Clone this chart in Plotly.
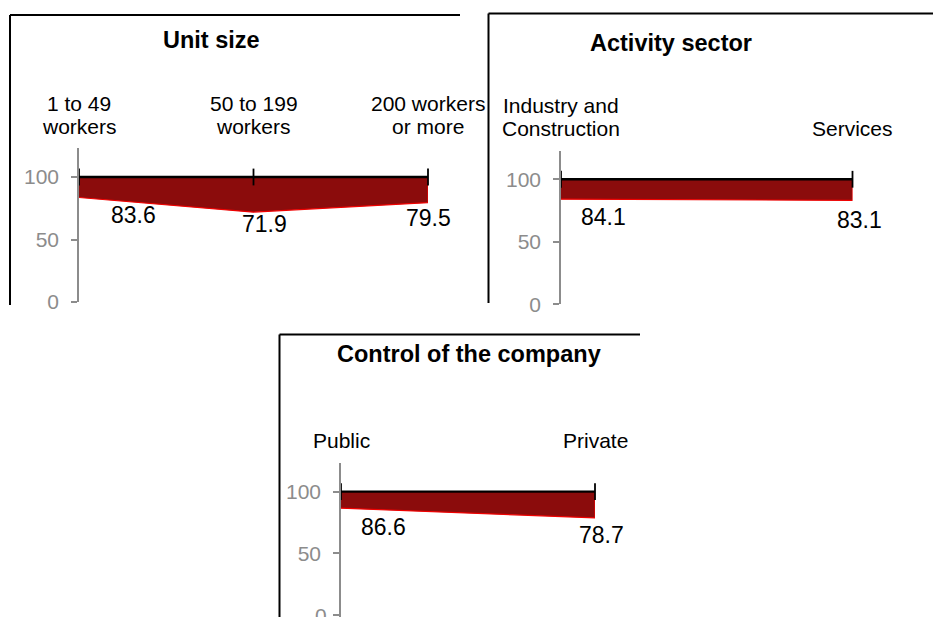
import plotly.graph_objects as go

# ---- data -------------------------------------------------------------
unit_size_labels = [["1 to 49", "workers"], ["50 to 199", "workers"], ["200 workers", "or more"]]
unit_size_values = [83.6, 71.9, 79.5]

sector_labels = [["Industry and", "Construction"], ["Services"]]
sector_values = [84.1, 83.1]

control_labels = [["Public"], ["Private"]]
control_values = [86.6, 78.7]

panel_titles = ["Unit size", "Activity sector", "Control of the company"]
y_ticks = [0, 50, 100]
reference_level = 100

# ---- page geometry (pixels) -------------------------------------------
W, H = 933, 617
FONT = "Liberation Sans, Arial, sans-serif"
FILL = "#8B0C0C"
EDGE = "#F00000"
GREY = "#8C8C8C"


def px(x):
    return x / W


def py(y):
    return 1 - y / H


panels = [
    dict(labels=unit_size_labels, values=unit_size_values, title=panel_titles[0],
         x0=79, x1=428, y_bottom=302, y_top=148.25, y_range=[0, 123], title_xy=(211, 40),
         frame=dict(left=10, top=15, right=460, bottom=305),
         label_shift=[(54, -17), (11, -12), (0, -15)]),
    dict(labels=sector_labels, values=sector_values, title=panel_titles[1],
         x0=561, x1=852.5, y_bottom=304.3, y_top=150.5, y_range=[0, 123], title_xy=(670.5, 42.5),
         frame=dict(left=488.5, top=13.5, right=933, bottom=303),
         label_shift=[(42.5, -17.5), (7, -20)]),
    dict(labels=control_labels, values=control_values, title=panel_titles[2],
         x0=341, x1=595, y_bottom=617, y_top=463.3, y_range=[-1.6, 123], title_xy=(469, 354),
         frame=dict(left=279.5, top=334.5, right=640, bottom=617),
         label_shift=[(42.5, -18.5), (6, -17)]),
]

fig = go.Figure()
annotations = []
shapes = []
layout_axes = {}

for i, p in enumerate(panels, start=1):
    xa = "x" if i == 1 else f"x{i}"
    ya = "y" if i == 1 else f"y{i}"
    cats = [" ".join(l) for l in p["labels"]]
    vals = p["values"]
    n = len(cats)
    top = [reference_level] * n

    # area between each value and the 100 reference level
    fig.add_trace(go.Scatter(
        x=cats + cats[::-1], y=vals + top[::-1], xaxis=xa, yaxis=ya,
        mode="lines", fill="toself", fillcolor=FILL,
        line=dict(color=EDGE, width=1.2), hoverinfo="skip", showlegend=False))

    # horizontal axis drawn at the reference level with crossing ticks
    fig.add_trace(go.Scatter(
        x=cats, y=top, xaxis=xa, yaxis=ya, mode="lines+markers",
        line=dict(color="black", width=2.4),
        marker=dict(symbol="line-ns-open", size=12, line=dict(color="black", width=1.8)),
        hoverinfo="skip", showlegend=False, cliponaxis=False))

    layout_axes["xaxis" if i == 1 else f"xaxis{i}"] = dict(
        domain=[px(p["x0"]), px(p["x1"])], anchor=ya, type="category",
        categoryorder="array", categoryarray=cats, range=[0, n - 1],
        showline=False, showgrid=False, zeroline=False, showticklabels=False,
        ticks="", automargin=False, fixedrange=True)
    layout_axes["yaxis" if i == 1 else f"yaxis{i}"] = dict(
        domain=[max(0, py(p["y_bottom"])), py(p["y_top"])], anchor=xa, range=p["y_range"],
        tickvals=y_ticks, ticks="outside", ticklen=6, tickwidth=1.5, tickcolor=GREY,
        showline=True, linecolor=GREY, linewidth=1.5, showgrid=False, zeroline=False,
        tickfont=dict(family=FONT, size=21, color=GREY), ticklabelstandoff=8,
        automargin=False, fixedrange=True)

    # the lowest tick of the bottom panel sits on the page edge, where the
    # axis would drop its label: draw that tick and label explicitly
    if p["y_range"][0] < 0:
        shapes.append(dict(type="line", xref=xa, yref=ya, xsizemode="pixel",
                           xanchor=0, x0=-6, x1=0, y0=y_ticks[0], y1=y_ticks[0],
                           line=dict(color=GREY, width=1.5)))
        annotations.append(dict(
            x=0, y=y_ticks[0], xref=xa, yref=ya, text=str(y_ticks[0]), showarrow=False,
            xanchor="right", yanchor="middle", xshift=-12,
            font=dict(family=FONT, size=21, color=GREY)))

    # category labels above the reference axis, bottom-aligned line by line
    for cat, lines in zip(cats, p["labels"]):
        for k, line in enumerate(reversed(lines)):
            annotations.append(dict(
                x=cat, y=reference_level, xref=xa, yref=ya, text=line,
                showarrow=False, xanchor="center", yanchor="middle",
                yshift=51 + 23 * k, font=dict(family=FONT, size=21, color="black")))

    # value labels under each point
    for cat, v, (dx, dy) in zip(cats, vals, p["label_shift"]):
        annotations.append(dict(
            x=cat, y=v, xref=xa, yref=ya, text=f"{v:.1f}", showarrow=False,
            xanchor="center", yanchor="middle", xshift=dx, yshift=dy,
            font=dict(family=FONT, size=23, color="black")))

    # panel title
    tx, ty = p["title_xy"]
    annotations.append(dict(
        x=px(tx), y=py(ty), xref="paper", yref="paper", text=f"<b>{p['title']}</b>",
        showarrow=False, xanchor="center", yanchor="middle",
        font=dict(family=FONT, size=23.5, color="black")))

    # chart-area frame (top and left edges)
    f = p["frame"]
    shapes.append(dict(type="line", xref="paper", yref="paper",
                       x0=px(f["left"]), x1=px(f["right"]), y0=py(f["top"]), y1=py(f["top"]),
                       line=dict(color="black", width=2)))
    shapes.append(dict(type="line", xref="paper", yref="paper",
                       x0=px(f["left"]), x1=px(f["left"]), y0=py(f["top"]), y1=py(f["bottom"]),
                       line=dict(color="black", width=2)))

fig.update_layout(
    width=W, height=H, margin=dict(l=0, r=0, t=0, b=0, autoexpand=False),
    paper_bgcolor="white", plot_bgcolor="white",
    annotations=annotations, shapes=shapes, showlegend=False,
    **layout_axes)

fig.write_html("out.html", config={"displayModeBar": False})
